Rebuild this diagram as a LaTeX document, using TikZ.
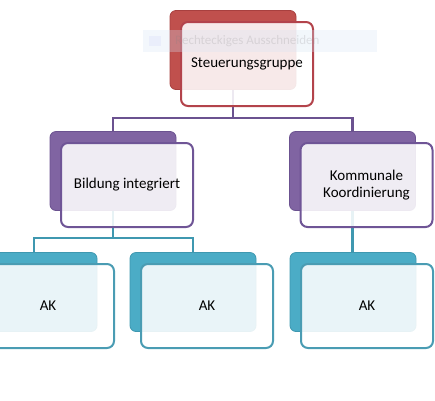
\documentclass[tikz,border=0pt]{standalone}
\usepackage{fontspec}
\setmainfont{Carlito}
\definecolor{redback}{HTML}{C0504D}
\definecolor{redline}{HTML}{A8403F}
\definecolor{redfront}{HTML}{B3434B}
\definecolor{purpleback}{HTML}{8064A2}
\definecolor{purpleline}{HTML}{6B5290}
\definecolor{purplefront}{HTML}{6F5596}
\definecolor{tealback}{HTML}{4BACC6}
\definecolor{tealline}{HTML}{3F98B0}
\definecolor{tealfront}{HTML}{4A9CB3}
\definecolor{tipblue}{HTML}{D6E4F5}
\begin{document}
\begin{tikzpicture}[x=1pt,y=-1pt,
    backbox/.style={rectangle,rounded corners=6pt,minimum width=126pt,minimum height=79pt,inner sep=0pt,line width=0.8pt},
    frontbox/.style={rectangle,rounded corners=7pt,minimum width=132pt,minimum height=84pt,inner sep=2pt,line width=2pt,
      fill=white,fill opacity=0.88,draw opacity=1,text opacity=1,align=center,font=\fontsize{15}{17}\selectfont},
    link/.style={line width=2.4pt}]
  \useasboundingbox (0,0) rectangle (435,400);
  % back boxes
  \path (233,50) node[backbox,fill=redback,draw=redline] (Sb) {};
  \path (113,171) node[backbox,fill=purpleback,draw=purpleline] (Bb) {};
  \path (352.5,171) node[backbox,fill=purpleback,draw=purpleline] (Kb) {};
  \path (34,292) node[backbox,fill=tealback,draw=tealline] (A1b) {};
  \path (193,292) node[backbox,fill=tealback,draw=tealline] (A2b) {};
  \path (353,292) node[backbox,fill=tealback,draw=tealline] (A3b) {};
  % connectors
  \draw[link,purpleline] (Sb.south) -- ++(0,28) -| (Bb.north);
  \draw[link,purpleline] (Sb.south) -- ++(0,28) -| (Kb.north);
  \draw[link,tealline] (Bb.south) -- ++(0,27) -| (A1b.north);
  \draw[link,tealline] (Bb.south) -- ++(0,27) -| (A2b.north);
  \draw[link,tealline] (Kb.south) -- (Kb.south |- A3b.north);
  % front boxes
  \path (Sb) ++(14,14) node[frontbox,draw=redfront] (S) {Steuerungsgruppe};
  \path (Bb) ++(14,14) node[frontbox,draw=purplefront] (B) {Bildung integriert};
  \path (Kb) ++(14,14) node[frontbox,draw=purplefront] (K) {Kommunale\\Koordinierung};
  \path (A1b) ++(14,14) node[frontbox,draw=tealfront] (A1) {AK};
  \path (A2b) ++(14,14) node[frontbox,draw=tealfront] (A2) {AK};
  \path (A3b) ++(14,14) node[frontbox,draw=tealfront] (A3) {AK};
  % faint tooltip
  \fill[tipblue,opacity=0.3] (143,30) rectangle (377,52);
  \fill[tipblue!60!blue,opacity=0.08] (149,36) rectangle (161,46);
  \path (175,41) node[anchor=west,inner sep=0pt,text=gray,text opacity=0.2,font=\fontsize{13}{15}\selectfont] (tip) {Rechteckiges Ausschneiden};
\end{tikzpicture}
\end{document}
